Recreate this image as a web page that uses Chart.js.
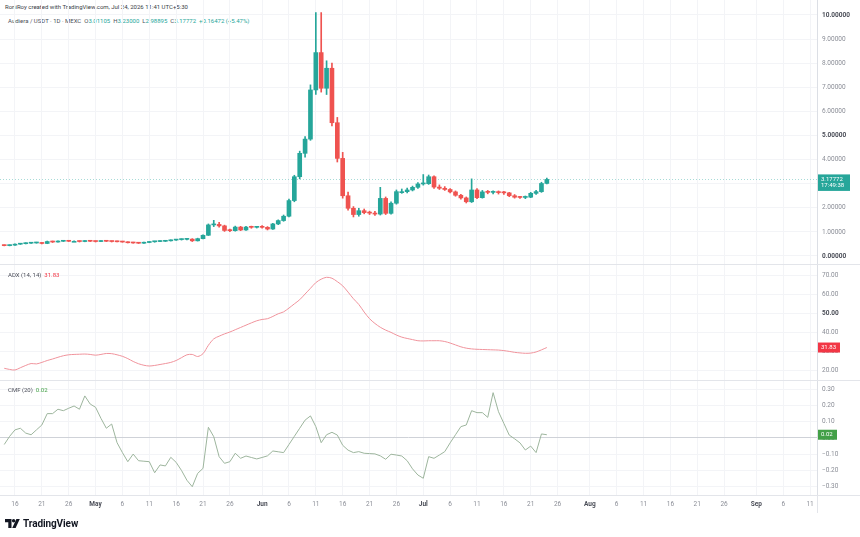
<!DOCTYPE html>
<html>
<head>
<meta charset="utf-8">
<script src="https://cdn.jsdelivr.net/npm/chart.js@4.4.1/dist/chart.umd.min.js"></script>
<style>
  html, body { margin: 0; padding: 0; background: #fff; }
  body { width: 860px; height: 537px; position: relative; overflow: hidden; font-family: Roboto, "Liberation Sans", sans-serif; }
  .pane { position: absolute; left: 0; }
  .sep { position: absolute; left: 0; width: 860px; height: 1px; background: #e3e5ea; }
  .txt { position: absolute; font-size: 6px; white-space: nowrap; color: #4c4f5a; }
  .up { color: #26a69a; }
</style>
</head>
<body>

<div class="txt" style="left:5px; top:3px; color:#3a3d46;">RoniRoy created with TradingView.com, Jul 24, 2026 11:41 UTC+5:30</div>
<div class="txt" style="left:8px; top:17px;">Audiera / USDT · 1D · MEXC &nbsp;O<span class="up">3.01105</span> &nbsp;H<span class="up">3.23000</span> &nbsp;L<span class="up">2.98895</span> &nbsp;C<span class="up">3.17772</span> &nbsp;<span class="up">+0.16472 (+5.47%)</span></div>

<div class="pane" style="top:0;"><canvas id="c-price" width="860" height="264"></canvas></div>
<div class="pane" style="top:264px;"><canvas id="c-adx" width="860" height="116"></canvas></div>
<div class="pane" style="top:380px;"><canvas id="c-cmf" width="860" height="135"></canvas></div>

<div class="sep" style="top:264px;"></div>
<div class="sep" style="top:380px;"></div>
<div class="sep" style="top:495px;"></div>
<div style="position:absolute; left:817px; top:495px; width:1px; height:18px; background:#e3e5ea;"></div>

<div class="txt" style="left:8px; top:271px;">ADX (14, 14) &nbsp;<span style="color:#f23645;">31.83</span></div>
<div class="txt" style="left:8px; top:386px;">CMF (20) &nbsp;<span style="color:#43a047;">0.02</span></div>

<div style="position:absolute; left:5px; top:518px; display:flex; align-items:center; color:#131722;">
  <svg width="15" height="9" viewBox="0 0 15 9"><path d="M0 0h6.5v9h-3.2v-5.8h-3.3z" fill="#131722"/><circle cx="8.6" cy="1.7" r="1.7" fill="#131722"/><path d="M11.4 0h3.4l-4.2 9h-3.4z" fill="#131722"/></svg>
  <span style="font-size:10px; font-weight:700; margin-left:3px; letter-spacing:-0.1px;">TradingView</span>
</div>

<script>
// daily candles, day 0 = Apr 14
const opens = [
  0.44,0.43,0.45,0.49,0.51,0.53,0.54,0.55,0.52,0.60,
  0.58,0.61,0.62,0.61,0.61,0.60,0.62,0.61,0.60,0.62,
  0.61,0.60,0.59,0.58,0.55,0.54,0.53,0.56,0.59,0.60,
  0.61,0.63,0.66,0.68,0.69,0.70,0.63,0.72,0.86,1.29,
  1.31,1.25,1.06,1.05,1.20,1.08,1.20,1.19,1.20,1.19,
  1.12,1.33,1.47,1.65,2.30,3.29,4.26,4.85,6.89,8.44,
  6.96,7.79,5.53,4.05,2.50,1.98,1.72,1.88,1.80,1.78,
  1.74,2.39,1.77,2.19,2.67,2.67,2.74,2.85,2.99,3.00,
  3.29,2.86,2.81,2.76,2.66,2.52,2.41,2.25,2.74,2.42,
  2.66,2.64,2.65,2.63,2.62,2.50,2.44,2.43,2.44,2.60,
  2.67,3.01105
];
const highs = [
  0.45,0.46,0.50,0.52,0.55,0.56,0.57,0.56,0.62,0.62,
  0.63,0.64,0.64,0.63,0.62,0.64,0.64,0.62,0.64,0.63,
  0.62,0.61,0.60,0.59,0.57,0.56,0.58,0.60,0.61,0.63,
  0.64,0.67,0.69,0.71,0.72,0.72,0.74,0.88,1.33,1.48,
  1.40,1.28,1.12,1.24,1.23,1.23,1.24,1.23,1.26,1.22,
  1.36,1.50,1.70,2.36,3.35,4.35,4.95,7.10,10.10,10.10,
  8.10,8.00,5.75,4.30,2.65,2.05,1.98,1.95,1.86,1.85,
  2.85,2.45,2.25,2.74,2.78,2.82,2.90,3.05,3.38,3.36,
  3.33,2.95,2.88,2.80,2.70,2.56,2.45,3.20,2.80,2.72,
  2.72,2.70,2.70,2.68,2.64,2.55,2.48,2.49,2.64,2.72,
  3.06,3.23
];
const lows = [
  0.42,0.42,0.44,0.48,0.50,0.52,0.53,0.50,0.51,0.56,
  0.57,0.60,0.60,0.59,0.58,0.59,0.60,0.58,0.59,0.60,
  0.58,0.58,0.57,0.54,0.53,0.52,0.52,0.55,0.57,0.59,
  0.60,0.62,0.65,0.66,0.67,0.60,0.62,0.71,0.85,1.22,
  1.20,1.02,1.01,1.03,1.05,1.06,1.15,1.16,1.15,1.08,
  1.10,1.30,1.44,1.62,2.25,3.20,4.10,4.80,6.70,6.80,
  6.70,5.40,3.90,2.40,1.90,1.62,1.65,1.75,1.72,1.68,
  1.70,1.72,1.74,2.15,2.60,2.62,2.70,2.80,2.94,2.97,
  2.80,2.76,2.72,2.62,2.48,2.36,2.20,2.22,2.38,2.40,
  2.58,2.58,2.57,2.56,2.46,2.40,2.39,2.38,2.42,2.56,
  2.64,2.98895
];
const closes = [
  0.43,0.45,0.49,0.51,0.53,0.54,0.55,0.52,0.60,0.58,
  0.61,0.62,0.61,0.61,0.60,0.62,0.61,0.60,0.62,0.61,
  0.60,0.59,0.58,0.55,0.54,0.53,0.56,0.59,0.60,0.61,
  0.63,0.66,0.68,0.69,0.70,0.63,0.72,0.86,1.29,1.31,
  1.25,1.06,1.05,1.20,1.08,1.20,1.19,1.20,1.19,1.12,
  1.33,1.47,1.65,2.30,3.29,4.26,4.85,6.89,8.44,6.96,
  7.79,5.53,4.05,2.50,1.98,1.72,1.88,1.80,1.78,1.74,
  2.39,1.77,2.19,2.67,2.67,2.74,2.85,2.99,3.00,3.29,
  2.86,2.81,2.76,2.66,2.52,2.41,2.25,2.74,2.42,2.66,
  2.64,2.65,2.63,2.62,2.50,2.44,2.43,2.44,2.60,2.67,
  3.01,3.17772
];
const adxValues = [
  20.9,20.3,20.0,21.2,22.4,23.4,23.2,24.0,25.0,25.8,
  26.7,27.5,28.0,28.2,28.3,28.4,28.2,27.8,28.2,28.7,
  28.6,28.0,27.2,26.0,24.5,23.3,22.5,22.1,22.4,22.9,
  23.4,24.0,25.0,26.5,28.0,28.2,27.1,28.6,33.0,36.4,
  37.8,39.0,40.0,41.2,42.4,43.6,44.8,45.9,46.6,47.0,
  48.2,49.6,50.6,52.6,54.8,57.0,60.0,63.0,66.0,67.8,
  68.8,68.3,66.5,64.3,61.0,57.5,54.5,50.5,47.0,44.5,
  42.5,41.0,39.8,38.4,37.3,36.6,36.0,35.4,35.3,35.4,
  35.4,35.4,35.0,34.2,33.2,32.2,31.5,31.1,30.9,30.8,
  30.7,30.6,30.5,30.2,29.8,29.3,29.0,28.8,28.9,29.5,
  30.6,31.83
];
const cmfValues = [
  -0.04,0.01,0.05,0.06,0.03,0.02,0.05,0.08,0.15,0.15,
  0.177,0.168,0.183,0.197,0.177,0.259,0.209,0.189,0.121,0.06,
  0.086,-0.029,-0.09,-0.146,-0.099,-0.14,-0.143,-0.146,-0.214,-0.166,
  -0.172,-0.119,-0.15,-0.2,-0.26,-0.30,-0.218,-0.187,0.066,0.008,
  -0.115,-0.156,-0.146,-0.094,-0.125,-0.111,-0.12,-0.129,-0.12,-0.11,
  -0.08,-0.085,-0.09,-0.04,0.01,0.06,0.11,0.136,0.07,-0.029,
  0.02,0.035,0.018,-0.045,-0.075,-0.09,-0.084,-0.094,-0.096,-0.098,
  -0.11,-0.131,-0.1,-0.105,-0.111,-0.14,-0.19,-0.228,-0.248,-0.115,
  -0.125,-0.105,-0.084,-0.03,0.02,0.07,0.08,0.168,0.156,0.156,
  0.127,0.279,0.162,0.09,0.018,-0.005,-0.03,-0.074,-0.05,-0.09,
  0.025,0.02
];

// x axis: day offsets from Apr 14 and their labels
const tickDays = [2,7,12,17,22,27,32,37,42,48,53,58,63,68,73,78,83,88,93,98,103,109,114,119,124,129,134,140,145,150];
const tickLabels = ['16','21','26','May','6','11','16','21','26','Jun','6','11','16','21','26','Jul','6','11','16','21','26','Aug','6','11','16','21','26','Sep','6','11'];
const monthLabels = ['May','Jun','Jul','Aug','Sep'];

const priceTicks = [0,1,2,3,4,5,6,7,8,9,10];
const adxTicks = [20,30,40,50,60,70];
const cmfTicks = [-0.3,-0.2,-0.1,0,0.1,0.2,0.3];

const lastPrice = 3.17772;
const lastAdx = 31.83;
const lastCmf = 0.02;

const upColor = '#26a69a';
const downColor = '#ef5350';
const gridColor = '#f3f4f7';
const labelColor = '#8b8e97';
const fontFamily = "Roboto, 'Liberation Sans', sans-serif";

const candleColors = closes.map((c, i) => c >= opens[i] ? upColor : downColor);
const wickData = highs.map((h, i) => ({ x: i, y: [lows[i], h] }));
const bodyData = closes.map((c, i) => ({ x: i, y: [opens[i], c] }));

function isMonth(ctx) {
  return monthLabels.includes(tickLabels[tickDays.indexOf(ctx.tick ? ctx.tick.value : -1)]);
}

function xAxis(showLabels) {
  return {
    type: 'linear',
    offset: false,
    min: -0.79,
    max: 151.29,
    afterBuildTicks: s => { s.ticks = tickDays.map(v => ({ value: v })); },
    ticks: {
      display: showLabels,
      autoSkip: false,
      maxRotation: 0,
      padding: 5,
      color: ctx => isMonth(ctx) ? '#4a4d57' : labelColor,
      font: ctx => ({ family: fontFamily, size: 6.5, weight: isMonth(ctx) ? 'bold' : 'normal' }),
      callback: v => tickLabels[tickDays.indexOf(v)]
    },
    grid: { color: gridColor, drawTicks: false, offset: false },
    border: { display: false },
    afterFit: s => { s.height = showLabels ? 20 : 0; s.paddingLeft = 0; s.paddingRight = 0; }
  };
}

function yAxis(min, max, ticks, fmt, boldTicks, zeroLine) {
  return {
    position: 'right',
    min: min,
    max: max,
    afterBuildTicks: s => { s.ticks = ticks.map(v => ({ value: v })); },
    ticks: {
      padding: 5,
      color: ctx => boldTicks.includes(ctx.tick ? ctx.tick.value : null) ? '#4a4d57' : labelColor,
      font: ctx => ({
        family: fontFamily, size: 6.5,
        weight: boldTicks.includes(ctx.tick ? ctx.tick.value : null) ? 'bold' : 'normal'
      }),
      callback: fmt
    },
    grid: {
      drawTicks: false,
      color: ctx => (zeroLine && ctx.tick && ctx.tick.value === 0) ? '#cfd2d8' : gridColor
    },
    border: { display: true, color: '#dcdfe5' },
    afterFit: s => { s.width = 43; s.paddingTop = 0; s.paddingBottom = 0; }
  };
}

function badge(id, value, color, lines, w) {
  return {
    id: id,
    afterDraw(chart) {
      const ctx = chart.ctx;
      const s = chart.scales.y;
      const y = s.getPixelForValue(value);
      ctx.save();
      ctx.fillStyle = color;
      ctx.fillRect(s.left + 1, y - 5, w, lines.length * 6.5 + 3.5);
      ctx.fillStyle = '#ffffff';
      ctx.font = '6px ' + fontFamily;
      ctx.textBaseline = 'middle';
      lines.forEach((t, k) => ctx.fillText(t, s.left + 4, y + k * 6.5));
      ctx.restore();
    }
  };
}

const priceLine = {
  id: 'priceLine',
  beforeDatasetsDraw(chart) {
    const ctx = chart.ctx;
    const a = chart.chartArea;
    const y = Math.round(chart.scales.y.getPixelForValue(lastPrice)) + 0.5;
    ctx.save();
    ctx.strokeStyle = 'rgba(38,166,154,0.4)';
    ctx.lineWidth = 1;
    ctx.setLineDash([1, 2]);
    ctx.beginPath();
    ctx.moveTo(a.left, y);
    ctx.lineTo(a.right, y);
    ctx.stroke();
    ctx.restore();
  }
};

const common = {
  responsive: false,
  animation: false,
  devicePixelRatio: 1,
  layout: { padding: 0 },
  plugins: { legend: { display: false }, tooltip: { enabled: false } }
};

// Prix
new Chart(document.getElementById('c-price'), {
  type: 'bar',
  data: {
    datasets: [
      { data: wickData, backgroundColor: candleColors, barThickness: 1, grouped: false, minBarLength: 1 },
      { data: bodyData, backgroundColor: candleColors, barThickness: 4, grouped: false, minBarLength: 1 }
    ]
  },
  options: Object.assign({}, common, {
    scales: {
      x: xAxis(false),
      y: yAxis(-0.332, 10.622, priceTicks, v => v.toFixed(5), [0, 5, 10], false)
    }
  }),
  plugins: [priceLine, badge('priceBadge', lastPrice, upColor, ['3.17772', '17:49:38'], 32)]
});

// ADX
new Chart(document.getElementById('c-adx'), {
  type: 'line',
  data: {
    datasets: [{
      data: adxValues.map((v, i) => ({ x: i, y: v })),
      borderColor: '#f0939c',
      borderWidth: 1,
      pointRadius: 0,
      tension: 0.3
    }]
  },
  options: Object.assign({}, common, {
    scales: {
      x: xAxis(false),
      y: yAxis(14.74, 75.79, adxTicks, v => v.toFixed(2), [50], false)
    }
  }),
  plugins: [badge('adxBadge', lastAdx, '#f23645', ['31.83'], 22)]
});

// CMF
new Chart(document.getElementById('c-cmf'), {
  type: 'line',
  data: {
    datasets: [{
      data: cmfValues.map((v, i) => ({ x: i, y: v })),
      borderColor: '#9db59d',
      borderWidth: 1,
      pointRadius: 0,
      tension: 0
    }]
  },
  options: Object.assign({}, common, {
    scales: {
      x: xAxis(true),
      y: yAxis(-0.351, 0.357, cmfTicks, v => (v < 0 ? '\u2212' : '') + Math.abs(v).toFixed(2), [], true)
    }
  }),
  plugins: [badge('cmfBadge', lastCmf, '#43a047', ['0.02'], 19)]
});
</script>
</body>
</html>
